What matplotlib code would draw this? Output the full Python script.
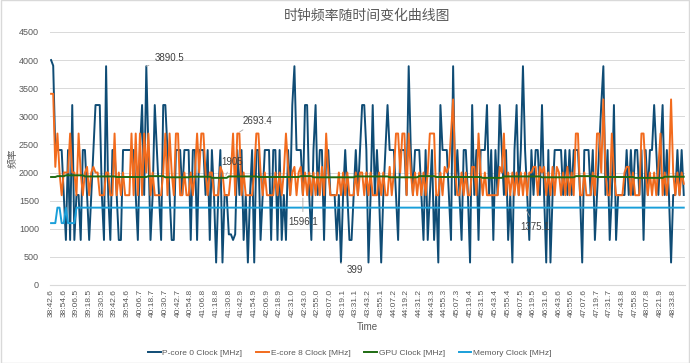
import numpy as np
import matplotlib
matplotlib.use('Agg')
import matplotlib.pyplot as plt

plt.rcParams['font.family'] = ['Noto Sans CJK SC', 'DejaVu Sans']

# tick labels shown on the category axis (every 6th sample)
time_labels = ['38:42.6', '38:54.6', '39:06.5', '39:18.5', '39:30.5', '39:42.6', '39:54.6',
               '40:06.7', '40:18.7', '40:30.7', '40:42.7', '40:54.8', '41:06.8', '41:18.8',
               '41:30.8', '41:42.9', '41:54.9', '42:06.9', '42:18.9', '42:31.0', '42:43.0',
               '42:55.0', '43:07.0', '43:19.1', '43:31.1', '43:43.2', '43:55.1', '44:07.2',
               '44:19.2', '44:31.2', '44:43.3', '44:55.3', '45:07.3', '45:19.4', '45:31.5',
               '45:43.4', '45:55.4', '46:07.5', '46:19.5', '46:31.6', '46:43.6', '46:55.6',
               '47:07.6', '47:19.7', '47:31.7', '47:43.8', '47:55.8', '48:07.8', '48:21.9',
               '48:33.8']

pcore = [
    4000, 3900, 2400, 2400, 2400, 2400, 1600, 800, 2400, 800,
    3200, 800, 1600, 1600, 800, 2400, 2400, 1600, 800, 1600,
    2400, 3200, 3200, 3200, 1600, 800, 3890.5, 1600, 800, 2400,
    2400, 1600, 800, 800, 2400, 2400, 2400, 2400, 2400, 2400,
    1600, 800, 2400, 3200, 1600, 3890.5, 2400, 800, 1600, 3200,
    2400, 1600, 800, 3200, 3200, 2400, 1600, 800, 800, 2400,
    2400, 2400, 1600, 2400, 2400, 2400, 800, 2400, 2400, 800,
    2400, 2400, 2400, 1600, 2400, 800, 2400, 1600, 399, 1600,
    2400, 399, 1600, 1600, 900, 900, 800, 900, 2400, 1600,
    2400, 800, 1600, 399, 1600, 2400, 399, 2400, 2400, 800,
    1600, 2400, 2400, 2400, 800, 2400, 2400, 800, 2400, 800,
    1600, 800, 2400, 1600, 3200, 3890.5, 2400, 2400, 2400, 1600,
    3200, 3200, 1600, 800, 2400, 3200, 1600, 2400, 2400, 800,
    2400, 2400, 1600, 1600, 1600, 800, 1600, 399, 1600, 2400,
    1600, 800, 800, 1600, 2400, 1600, 2400, 3200, 3200, 2400,
    399, 1600, 3200, 1600, 2400, 1600, 399, 1600, 2400, 3200,
    2400, 2400, 2400, 1600, 800, 2400, 2400, 2400, 1600, 3890.5,
    2400, 1600, 2400, 2400, 2400, 1600, 800, 2400, 800, 1600,
    2400, 800, 1600, 399, 3200, 2400, 2400, 2400, 1600, 800,
    3890.5, 1600, 2400, 1600, 800, 2400, 2400, 1600, 399, 3200,
    1600, 2400, 800, 2400, 2400, 2400, 3200, 1600, 2400, 800,
    2400, 1600, 3200, 2400, 1600, 2400, 800, 1600, 399, 2400,
    3200, 1600, 2400, 3890.5, 2400, 1600, 800, 2400, 1600, 2400,
    2400, 1600, 3200, 1600, 399, 2400, 399, 1600, 2400, 2400,
    2400, 2400, 1600, 2400, 1600, 2400, 1600, 2400, 2400, 2400,
    1600, 399, 2400, 2400, 2400, 1600, 2400, 800, 1600, 2400,
    3200, 3890.5, 1600, 2400, 800, 1600, 3200, 800, 1600, 1600,
    1600, 1600, 2400, 1600, 2400, 1600, 2400, 2400, 1600, 2400,
    800, 2400, 1600, 2400, 2400, 3200, 2400, 1600, 2400, 3200,
    1600, 2400, 1600, 399, 1600, 1600, 2400, 1600, 2400, 1600,
]

ecore = [
    3400, 3400, 2100, 2693.4, 2000, 1596.1, 2000, 2000, 2000, 2693.4,
    2000, 2000, 1596.1, 2693.4, 2000, 1596.1, 2000, 2100, 1596.1, 2000,
    2100, 2000, 2000, 1596.1, 1596.1, 1596.1, 2000, 2000, 1596.1, 1596.1,
    2693.4, 1596.1, 2000, 1596.1, 2000, 1596.1, 1596.1, 1596.1, 2693.4, 1596.1,
    2693.4, 1596.1, 2693.4, 1596.1, 2693.4, 2000, 2693.4, 1596.1, 2000, 1596.1,
    1596.1, 1596.1, 1596.1, 2000, 2693.4, 1596.1, 2693.4, 2000, 1596.1, 2693.4,
    2693.4, 1596.1, 1596.1, 2000, 1596.1, 1596.1, 2000, 1596.1, 2000, 2693.4,
    2000, 2693.4, 2693.4, 2000, 1596.1, 2000, 2000, 1596.1, 1596.1, 1596.1,
    2100, 2000, 1596.1, 1596.1, 1596.1, 2000, 2693.4, 1596.1, 2693.4, 2693.4,
    1596.1, 2000, 1596.1, 1596.1, 1596.1, 1596.1, 2000, 2693.4, 2693.4, 2000,
    1596.1, 2000, 1596.1, 1596.1, 1596.1, 1596.1, 2000, 1596.1, 2000, 1596.1,
    2000, 2693.4, 2100, 1596.1, 2000, 2100, 1596.1, 2000, 2100, 1596.1,
    2000, 1596.1, 2000, 1596.1, 2000, 1596.1, 2000, 1596.1, 2100, 1596.1,
    2693.4, 2000, 1596.1, 1596.1, 1596.1, 1596.1, 2000, 1596.1, 2000, 1596.1,
    2000, 1596.1, 1596.1, 1596.1, 2000, 1596.1, 2000, 2000, 1596.1, 2000,
    1596.1, 2000, 1596.1, 1596.1, 1596.1, 2000, 1596.1, 2000, 1596.1, 1596.1,
    2100, 1596.1, 2000, 2693.4, 2693.4, 2000, 2693.4, 2693.4, 1596.1, 2693.4,
    2000, 1596.1, 2000, 1596.1, 2000, 1596.1, 2000, 1596.1, 2000, 2693.4,
    2693.4, 2693.4, 1596.1, 1596.1, 2000, 1596.1, 2100, 2000, 2100, 2693.4,
    3300, 2000, 1596.1, 1596.1, 2000, 1596.1, 2000, 1596.1, 1596.1, 2100,
    2100, 1596.1, 2693.4, 2000, 1596.1, 2000, 1596.1, 1596.1, 1596.1, 1596.1,
    1596.1, 1596.1, 2100, 2000, 2693.4, 1596.1, 2000, 1596.1, 2000, 1596.1,
    2000, 1596.1, 2000, 1596.1, 2000, 1596.1, 2000, 2000, 2100, 2100,
    1596.1, 2100, 2000, 2100, 1596.1, 2000, 1596.1, 2100, 1596.1, 2100,
    2000, 1596.1, 2000, 1596.1, 2100, 1596.1, 2000, 1596.1, 2693.4, 2693.4,
    1596.1, 1596.1, 2000, 1596.1, 1596.1, 1596.1, 2000, 1596.1, 2693.4, 2693.4,
    2000, 3300, 2000, 1596.1, 1596.1, 2693.4, 2000, 1596.1, 1596.1, 1596.1,
    1596.1, 2000, 2100, 2100, 1596.1, 2000, 1596.1, 1596.1, 1596.1, 2693.4,
    2693.4, 2000, 1596.1, 2000, 1596.1, 2000, 1596.1, 2100, 2693.4, 1596.1,
    2000, 1596.1, 2000, 3300, 2000, 1596.1, 2000, 1596.1, 2000, 1800,
]

# GPU and memory clocks hold steady for long stretches: (value, number of samples)
gpu_runs = [(1920, 3), (1935, 4), (1950, 9), (1930, 15), (1920, 15), (1935, 8), (1915, 12),
            (1925, 10), (1905, 8), (1930, 14), (1920, 20), (1935, 6), (1915, 20), (1930, 16),
            (1915, 14), (1935, 8), (1920, 22), (1905, 10), (1930, 18), (1915, 16), (1935, 10),
            (1920, 18), (1905, 14), (1925, 10)]
mem_runs = [(1100, 3), (1375.1, 2), (1100, 2), (1375.1, 1), (1100, 4), (1375.1, 288)]

gpu = [v for v, n in gpu_runs for _ in range(n)]
mem = [v for v, n in mem_runs for _ in range(n)]

series = [
    ('P-core 0 Clock [MHz]', pcore, '#0f4c75'),
    ('E-core 8 Clock [MHz]', ecore, '#f26b1d'),
    ('GPU Clock [MHz]', gpu, '#1e6b12'),
    ('Memory Clock [MHz]', mem, '#1a9fd9'),
]

fig = plt.figure(figsize=(6.9, 3.63), dpi=100)
ax = fig.add_axes([0.0725, 0.215, 0.92, 0.697])

for name, vals, col in series:
    ax.plot(np.arange(len(vals)), vals, color=col, lw=1.4, label=name)

ax.set_xlim(-0.5, len(pcore) - 0.5)
ax.set_ylim(0, 4500)
ax.set_yticks(np.arange(0, 4501, 500))
ax.set_xticks(np.arange(len(time_labels)) * 6)
ax.set_xticklabels(time_labels, rotation=90, fontsize=6, color='#595959', family=['Liberation Sans'])
ax.tick_params(axis='y', labelsize=6.5, colors='#595959', length=0, pad=8)
ax.tick_params(axis='x', length=0, pad=3)
for lab in ax.get_yticklabels():
    lab.set_family(['Liberation Sans'])

ax.grid(axis='y', color='#d9d9d9', lw=0.7)
ax.set_axisbelow(True)
for s in ['top', 'right', 'left']:
    ax.spines[s].set_visible(False)
ax.spines['bottom'].set_color('#d9d9d9')

ax.set_title('时钟频率随时间变化曲线图', fontsize=10, color='#595959', pad=9)
ax.set_ylabel('频率', fontsize=7, color='#595959', labelpad=1)
ax.set_xlabel('Time', fontsize=7, color='#595959', labelpad=3, family=['Liberation Sans'])

# data labels with leader lines
lead = dict(arrowstyle='-', color='#a6a6a6', lw=0.6)
notes = [(45, pcore[45], '3890.5', (8, 8), 'left'),
         (88, ecore[88], '2693.4', (5, 13), 'left'),
         (82, 1905, '1905', (-3, 16), 'left'),
         (119, ecore[119], '1596.1', (0, -27), 'center'),
         (137, pcore[137], '399', (6, -7), 'left'),
         (224, mem[224], '1375.1', (-5, -19), 'left')]
for xi, yv, txt, off, ha in notes:
    ax.annotate(txt, (xi, yv), xytext=off, textcoords='offset pixels', ha=ha, va='center',
                fontsize=7, color='#404040', arrowprops=lead, family=['Liberation Sans'])

leg = fig.legend(loc='lower center', ncol=4, frameon=False,
                 bbox_to_anchor=(0.507, -0.005), handlelength=1.5, handletextpad=0.2,
                 columnspacing=1.7, prop={'family': ['Liberation Sans'], 'size': 6})
for t in leg.get_texts():
    t.set_color('#595959')

fig.patches.append(plt.Rectangle((0.001, 0.001), 0.998, 0.998, transform=fig.transFigure,
                                 fill=False, edgecolor='#d9d9d9', lw=1))

fig.savefig('out.png', dpi=100)
